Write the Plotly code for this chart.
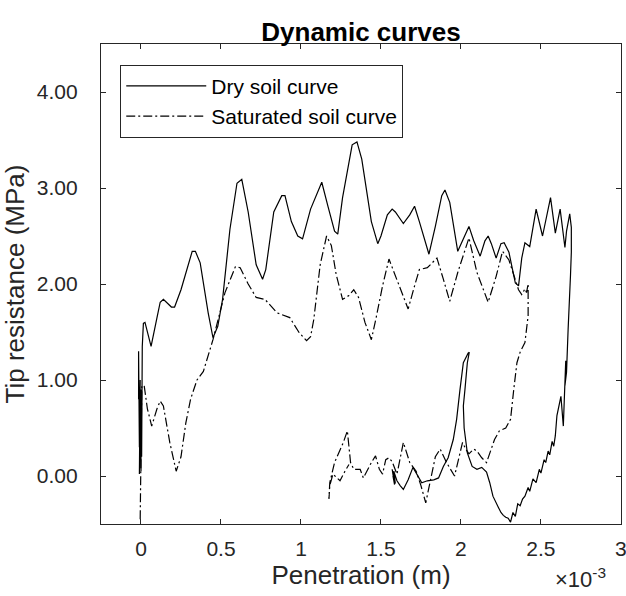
import plotly.graph_objects as go

# ---- Data (penetration in units of 1e-3 m, tip resistance in MPa) ----
dry_x = [-0.015, -0.015, -0.010, -0.005, -0.010, -0.005, 0.000, 0.000, 0.004, 0.008, 0.015, 0.025,
         0.063, 0.100, 0.120, 0.140, 0.190, 0.210, 0.250, 0.320, 0.340, 0.370, 0.420, 0.450, 0.480,
         0.510, 0.556, 0.600, 0.630, 0.670, 0.720, 0.760, 0.780, 0.830, 0.880, 0.900, 0.940, 0.980,
         1.010, 1.060, 1.130, 1.170, 1.210, 1.230, 1.260, 1.320, 1.350, 1.380, 1.440, 1.480, 1.500,
         1.540, 1.570, 1.590, 1.640, 1.680, 1.710, 1.740, 1.800, 1.840, 1.880, 1.900, 1.930, 1.980,
         2.010, 2.050, 2.080, 2.120, 2.150, 2.170, 2.190, 2.220, 2.250, 2.270, 2.300, 2.340, 2.360,
         2.380, 2.400, 2.430, 2.470, 2.510, 2.560, 2.590, 2.620, 2.650, 2.660, 2.680, 2.690,
         2.690, 2.685, 2.680, 2.670, 2.660, 2.650, 2.655, 2.640, 2.625, 2.610, 2.600, 2.590, 2.580,
         2.570, 2.555, 2.545, 2.530, 2.520, 2.500, 2.490, 2.470, 2.450, 2.430, 2.420, 2.400, 2.385,
         2.370, 2.355, 2.340, 2.325, 2.310, 2.295, 2.280, 2.265, 2.250, 2.235, 2.220, 2.200, 2.180,
         2.160, 2.130, 2.100, 2.070, 2.040, 2.020, 2.015, 2.025, 2.040, 2.050, 2.052, 2.045, 2.030,
         2.015, 1.994, 1.973, 1.952, 1.920, 1.890, 1.860, 1.830, 1.790, 1.755, 1.730, 1.700, 1.670,
         1.640, 1.620, 1.600, 1.580, 1.590, 1.570, 1.585, 1.575]
dry_y = [0.80, 1.30, 0.30, 1.00, 0.02, 0.60, 0.05, 0.90, 0.20, 1.35, 1.59, 1.60,
         1.35, 1.65, 1.81, 1.84, 1.76, 1.76, 1.94, 2.34, 2.34, 2.22, 1.70, 1.44, 1.56,
         1.84, 2.57, 3.05, 3.09, 2.75, 2.20, 2.05, 2.15, 2.75, 2.92, 2.92, 2.65, 2.50,
         2.47, 2.78, 3.06, 2.80, 2.55, 2.52, 2.90, 3.45, 3.48, 3.30, 2.65, 2.42, 2.50,
         2.72, 2.78, 2.75, 2.63, 2.72, 2.81, 2.65, 2.31, 2.60, 2.92, 2.98, 2.85, 2.34,
         2.45, 2.60, 2.45, 2.29, 2.45, 2.50, 2.42, 2.27, 2.42, 2.43, 2.33, 2.01, 1.98,
         2.27, 2.43, 2.39, 2.78, 2.50, 2.90, 2.53, 2.78, 2.38, 2.55, 2.73, 2.59,
         2.33, 2.10, 1.94, 1.53, 1.08, 0.94, 1.20, 0.52, 0.83, 0.70, 0.63, 0.42, 0.31,
         0.36, 0.22, 0.26, 0.14, 0.17, 0.03, 0.07, -0.07, -0.03, -0.16, -0.12, -0.21, -0.24,
         -0.31, -0.29, -0.42, -0.38, -0.48, -0.44, -0.43, -0.41, -0.38, -0.33, -0.28, -0.21, -0.07,
         0.04, 0.09, 0.07, 0.10, 0.24, 0.50, 0.73, 0.90, 1.18, 1.27, 1.29, 1.28, 1.22,
         1.18, 0.90, 0.59, 0.38, 0.19, 0.10, -0.02, -0.04, -0.05, -0.07, 0.00, 0.09, -0.04,
         -0.14, -0.10, -0.05, 0.05, -0.08, 0.07, -0.09, 0.00]

sat_x = [-0.005, 0.000, 0.005, 0.020, 0.040, 0.067, 0.100, 0.120, 0.140, 0.180, 0.220, 0.250,
         0.280, 0.310, 0.350, 0.390, 0.450, 0.525, 0.590, 0.620, 0.670, 0.720, 0.775, 0.850,
         0.930, 0.990, 1.035, 1.060, 1.080, 1.120, 1.160, 1.190, 1.220, 1.260, 1.300, 1.330,
         1.360, 1.400, 1.440, 1.470, 1.510, 1.550, 1.600, 1.670, 1.710, 1.740, 1.790, 1.850,
         1.890, 1.930, 1.980, 2.050, 2.100, 2.170, 2.220, 2.260, 2.300, 2.340, 2.360, 2.380,
         2.400, 2.410, 2.420, 2.420, 2.400, 2.370, 2.350, 2.330, 2.310, 2.280, 2.240, 2.210,
         2.180, 2.160, 2.130, 2.100, 2.080, 2.050, 2.030, 2.010, 1.990, 1.960, 1.910, 1.870,
         1.840, 1.800, 1.780, 1.750, 1.720, 1.680, 1.640, 1.610, 1.600, 1.570, 1.550, 1.530,
         1.510, 1.490, 1.466, 1.440, 1.390, 1.370, 1.330, 1.310, 1.290, 1.265, 1.210, 1.180,
         1.175, 1.180, 1.200, 1.244, 1.275, 1.300]
sat_y = [-0.45, 0.20, 0.94, 0.94, 0.70, 0.52, 0.70, 0.78, 0.73, 0.35, 0.05, 0.20,
         0.55, 0.80, 1.00, 1.09, 1.42, 1.91, 2.18, 2.17, 2.00, 1.86, 1.84, 1.70,
         1.65, 1.49, 1.41, 1.45, 1.63, 2.20, 2.50, 2.40, 2.10, 1.84, 1.88, 1.94,
         1.86, 1.60, 1.42, 1.65, 1.98, 2.26, 2.05, 1.74, 1.98, 2.15, 2.17, 2.27,
         2.05, 1.82, 2.12, 2.48, 2.12, 1.81, 2.08, 2.34, 2.25, 2.05, 1.94, 1.89,
         1.95, 1.91, 2.00, 1.67, 1.39, 1.29, 1.18, 0.90, 0.59, 0.50, 0.47, 0.38,
         0.24, 0.14, 0.19, 0.26, 0.28, 0.23, 0.28, 0.35, 0.21, 0.00, 0.14, 0.28,
         0.20, -0.10, -0.28, -0.10, 0.05, 0.14, 0.35, 0.10, 0.02, 0.15, 0.19, 0.17,
         0.02, 0.07, 0.21, 0.14, -0.02, 0.07, 0.07, 0.14, 0.47, 0.35, 0.14, -0.07,
         -0.24, -0.10, 0.02, -0.05, 0.05, 0.12]

x_scale = 1e-3
x_tick_vals = [0, 0.5, 1, 1.5, 2, 2.5, 3]
x_tick_text = ["0", "0.5", "1", "1.5", "2", "2.5", "3"]
y_tick_vals = [0, 1, 2, 3, 4]

AX = "#262626"
FONT = "Liberation Sans, Arial, Helvetica, sans-serif"

fig = go.Figure()
fig.add_trace(go.Scatter(x=[v * x_scale for v in dry_x], y=dry_y, mode="lines",
                         name="Dry soil curve",
                         line=dict(color="black", width=1.2)))
fig.add_trace(go.Scatter(x=[v * x_scale for v in sat_x], y=sat_y, mode="lines",
                         name="Saturated soil curve",
                         line=dict(color="black", width=1.2, dash="9px,3px,2px,3px")))

fig.update_layout(
    width=626, height=596,
    margin=dict(l=101, r=5, t=44, b=72, autoexpand=False),
    paper_bgcolor="white", plot_bgcolor="white",
    font=dict(family=FONT, color=AX, size=21),
    title=dict(text="<b>Dynamic curves</b>", x=0.5, xref="paper", xanchor="center",
               y=1, yref="paper", yanchor="bottom", pad=dict(b=3),
               font=dict(size=26, color="black", family=FONT)),
    showlegend=True,
    legend=dict(x=0.037, y=0.957, xanchor="left", yanchor="top",
                bgcolor="white", bordercolor=AX, borderwidth=1,
                font=dict(size=21, color="black", family=FONT),
                tracegroupgap=0, itemwidth=80),
)
fig.update_xaxes(range=[-0.25 * x_scale, 3.0005 * x_scale],
                 tickvals=[v * x_scale for v in x_tick_vals], ticktext=x_tick_text,
                 ticks="inside", ticklen=5, tickcolor=AX, showline=True, linecolor=AX,
                 linewidth=1.2, mirror="ticks", showgrid=False, zeroline=False,
                 automargin=False, ticklabelstandoff=6, ticklabeloverflow="allow",
                 title=dict(text="Penetration (m)", font=dict(size=26), standoff=4),
                 tickfont=dict(size=21))
fig.update_yaxes(range=[-0.5, 4.5], tickvals=y_tick_vals, tickformat=".2f",
                 ticks="inside", ticklen=5, tickcolor=AX, showline=True, linecolor=AX,
                 linewidth=1.2, mirror="ticks", showgrid=False, zeroline=False,
                 automargin=False, ticklabelstandoff=18,
                 title=dict(text="Tip resistance (MPa)", font=dict(size=26), standoff=6),
                 tickfont=dict(size=21))
fig.add_annotation(text="×10<sup>-3</sup>", xref="paper", yref="paper", x=0.975, y=-0.08,
                   xanchor="right", yanchor="top", showarrow=False,
                   font=dict(size=22, color=AX, family=FONT))

fig.write_html("out.html", config={"displayModeBar": False},
               post_script="document.body.style.margin='0';")
